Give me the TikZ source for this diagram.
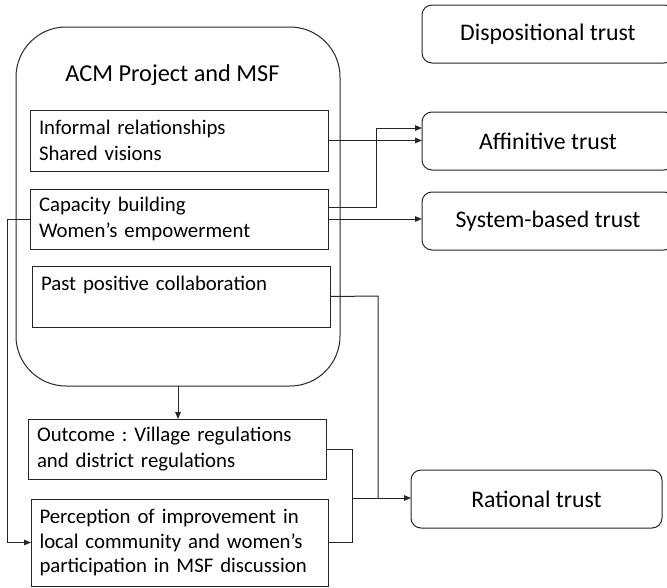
\documentclass[tikz,border=0pt]{standalone}
\usepackage{fontspec}
\setmainfont{Carlito}
\usetikzlibrary{arrows.meta}
\frenchspacing
\begin{document}
\begin{tikzpicture}[x=1pt,y=-1pt,
  line width=1pt, draw=black!85,
  every node/.style={inner sep=0pt, outer sep=0pt},
  inbox/.style={draw, rectangle, minimum width=298pt, text width=280pt, align=left,
    font=\fontsize{20.8}{25.5}\selectfont\frenchspacing},
  trustbox/.style={draw, rectangle, rounded corners=10pt, minimum height=58pt,
    font=\fontsize{23.8}{28}\selectfont},
  conn/.style={draw=black!85, line width=1pt},
  arr/.style={conn, -{Triangle[length=7pt,width=5.5pt]}}
]
\useasboundingbox (0,0) rectangle (667,587);

% big rounded container
\node[draw, rectangle, rounded corners=50pt, minimum width=324pt, minimum height=359pt]
  (acm) at (178,206.5) {};
\node[anchor=base, font=\fontsize{24.3}{28}\selectfont] (acmtitle) at (172.5,81.5) {ACM Project and MSF};

% inner boxes
\node[inbox, minimum height=61pt] (b1) at (179,140.5) {Informal relationships\\Shared visions};
\node[inbox, minimum height=60pt] (b2) at (179,219) {Capacity building\\Women’s empowerment};
\node[inbox, minimum height=61pt] (b3) at (181,296.5) {Past positive collaboration\\\mbox{}};

% lower boxes
\node[inbox, minimum height=60pt] (out) at (177,449) {Outcome : Village regulations\\and district regulations};
\node[inbox, minimum height=87pt, minimum width=297pt, font=\fontsize{20.8}{24.5}\selectfont\frenchspacing] (perc) at (179.5,542.5)
  {Perception of improvement in\\local community and women’s\\participation in MSF discussion};

% trust boxes
\node[trustbox, minimum width=252pt] (disp) at (548,34) {Dispositional trust};
\node[trustbox, minimum width=252pt] (aff) at (548,141) {Affinitive trust};
\node[trustbox, minimum width=252pt] (sys) at (548,221) {System-based trust};
\node[trustbox, minimum width=251pt] (rat) at (536.5,499) {Rational trust};

% junction coordinates
\coordinate (j1) at (376,207);
\coordinate (j2) at (378,296);
\coordinate (j3) at (352,449);
\coordinate (j4) at (352,498);
\coordinate (j5) at (7,218);

% connectors
\draw[arr] (acm.south) -- (acm.south |- out.north);
\draw[arr] (b1.east) -- (b1.east -| aff.west);
\draw[arr] ([yshift=12pt]b2.east) -- (j1) |- ([yshift=13pt]aff.west);
\draw[arr] (b2.east) -- (b2.east -| sys.west);
\draw[arr] (b2.west) -- (b2.west -| j5) |- (perc.west);
\draw[conn] (b3.east) -- (j2) -- (j2 |- j4);
\draw[conn] (out.east) -- (j3) |- (perc.east);
\draw[arr] (j4) -- (j4 -| rat.west);
\end{tikzpicture}
\end{document}
